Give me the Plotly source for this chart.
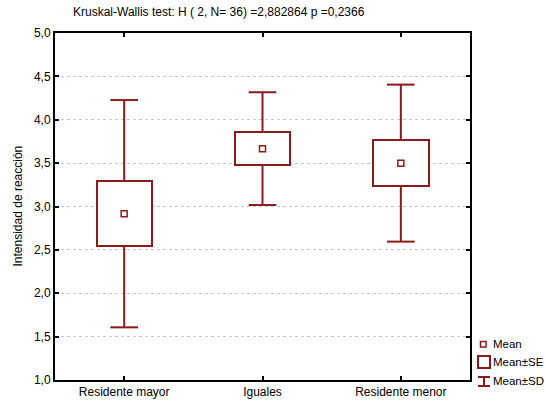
import plotly.graph_objects as go

# Reaction intensity by group: mean, standard error, standard deviation
groups = ["Residente mayor", "Iguales", "Residente menor"]
means = [2.917, 3.667, 3.500]
se = [0.378, 0.187, 0.261]
sd = [1.310, 0.650, 0.905]

title_text = "Kruskal-Wallis test: H ( 2, N= 36) =2,882864 p =0,2366"
y_ticks = [1.0, 1.5, 2.0, 2.5, 3.0, 3.5, 4.0, 4.5, 5.0]

RED = "#8B1A1A"
W, H = 546, 404
L, R, T, B = 55, 76, 33, 24
BOX_HALF = 0.2
CAP_HALF = 0.1

xs = list(range(len(groups)))
fig = go.Figure()

# whisker segments (box edge -> mean±SD) and caps
wx, wy = [], []
for i, m, s, d in zip(xs, means, se, sd):
    wx += [i, i, None, i, i, None, i - CAP_HALF, i + CAP_HALF, None, i - CAP_HALF, i + CAP_HALF, None]
    wy += [m + s, m + d, None, m - s, m - d, None, m + d, m + d, None, m - d, m - d, None]
fig.add_trace(go.Scatter(x=wx, y=wy, mode="lines", line=dict(color=RED, width=2),
                         hoverinfo="skip", showlegend=False))

# mean ± SE box
fig.add_trace(go.Bar(x=xs, y=[2 * s for s in se], base=[m - s for m, s in zip(means, se)],
                     width=2 * BOX_HALF, marker=dict(color="white", line=dict(color=RED, width=2)),
                     showlegend=False))

# mean marker
fig.add_trace(go.Scatter(x=xs, y=means, mode="markers",
                         marker=dict(symbol="square-open", size=6, color=RED, line=dict(width=1.5)),
                         showlegend=False))

# legend drawn by hand at lower right
def px(x):
    return (x - L) / (W - L - R)

def py(y):
    return (H - B - y) / (H - T - B)

shapes = [
    dict(type="rect", xref="paper", yref="paper", x0=px(480.5), x1=px(486), y0=py(347), y1=py(341.5),
         line=dict(color=RED, width=1.5), fillcolor="white"),
    dict(type="rect", xref="paper", yref="paper", x0=px(478), x1=px(490), y0=py(368), y1=py(356),
         line=dict(color=RED, width=2), fillcolor="white"),
    dict(type="line", xref="paper", yref="paper", x0=px(484), x1=px(484), y0=py(386), y1=py(377),
         line=dict(color=RED, width=2)),
    dict(type="line", xref="paper", yref="paper", x0=px(478), x1=px(490), y0=py(377), y1=py(377),
         line=dict(color=RED, width=2)),
    dict(type="line", xref="paper", yref="paper", x0=px(478), x1=px(490), y0=py(386), y1=py(386),
         line=dict(color=RED, width=2)),
]
annotations = []
for label, yy in [("Mean", 344), ("Mean±SE", 362), ("Mean±SD", 381)]:
    annotations.append(dict(text=label, xref="paper", yref="paper", x=px(491), y=py(yy),
                            xanchor="left", yanchor="middle", showarrow=False,
                            font=dict(size=11.5, color="black")))
annotations.append(dict(text="Intensidad de reacción", xref="paper", yref="paper",
                        x=px(17), y=0.5, textangle=-90, xanchor="center", yanchor="middle",
                        showarrow=False, font=dict(size=12, color="black")))

font = dict(family="Liberation Sans, Arial, sans-serif", size=12, color="black")
fig.update_layout(
    width=W, height=H,
    margin=dict(l=L, r=R, t=T, b=B, autoexpand=False),
    paper_bgcolor="white", plot_bgcolor="white",
    font=font,
    separators=", ",
    title=dict(text=title_text, x=73 / W, xanchor="left", xref="container",
               y=1 - 12 / H, yanchor="middle", yref="container",
               font=dict(size=12, color="black")),
    bargap=0,
    shapes=shapes,
    annotations=annotations,
)
fig.update_xaxes(range=[-0.5, 2.5], tickvals=xs, ticktext=groups, showgrid=False,
                 showline=True, linecolor="black", linewidth=2, mirror="ticks",
                 ticks="inside", ticklen=4, tickcolor="black", tickwidth=1.5, zeroline=False,
                 automargin=False)
fig.update_yaxes(range=[1.0, 5.0], tickvals=y_ticks, tickformat=".1f",
                 showgrid=True, gridcolor="#c8c8c8", griddash="dot", gridwidth=1,
                 showline=True, linecolor="black", linewidth=2, mirror="ticks",
                 ticks="inside", ticklen=4, tickcolor="black", tickwidth=1.5, zeroline=False,
                 automargin=False)

fig.write_html("out.html")
